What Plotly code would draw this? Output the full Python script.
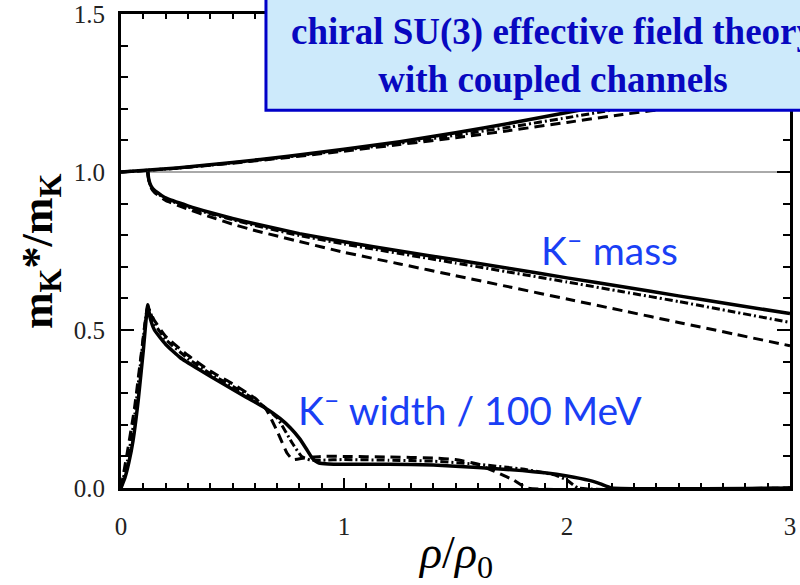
import plotly.graph_objects as go

# ---- data ----
# upper branch (mass rising above 1)
up_x = [0.0, 0.25, 0.5, 0.75, 1.0, 1.25, 1.5, 1.75, 2.0, 2.25, 2.5, 2.75, 3.0]
up_solid = [1.0, 1.013, 1.03, 1.05, 1.072, 1.096, 1.124, 1.155, 1.188, 1.222, 1.258, 1.295, 1.333]
up_dashdot = [1.0, 1.012, 1.029, 1.048, 1.069, 1.091, 1.116, 1.143, 1.172, 1.202, 1.233, 1.265, 1.298]
up_dashed = [1.0, 1.012, 1.028, 1.046, 1.066, 1.087, 1.108, 1.132, 1.157, 1.182, 1.205, 1.23, 1.255]

# K- mass branch
ms_x = [0.12, 0.125, 0.135, 0.15, 0.2, 0.3, 0.4, 0.5, 0.6, 0.8, 1.0, 1.25, 1.5, 1.75, 2.0, 2.25, 2.5, 2.75, 3.0]
ms_solid = [1.0, 0.975, 0.955, 0.942, 0.918, 0.893, 0.872, 0.853, 0.836, 0.805, 0.779, 0.75, 0.722, 0.694, 0.665, 0.637, 0.608, 0.58, 0.552]
ms_dashdot = [1.0, 0.973, 0.952, 0.939, 0.915, 0.889, 0.868, 0.849, 0.831, 0.799, 0.772, 0.742, 0.712, 0.682, 0.652, 0.621, 0.59, 0.557, 0.524]
ms_dashed = [1.0, 0.972, 0.95, 0.935, 0.91, 0.882, 0.858, 0.835, 0.815, 0.78, 0.746, 0.709, 0.672, 0.635, 0.598, 0.561, 0.524, 0.487, 0.45]

# K- width / 100 MeV
ws_x = [0.0, 0.018, 0.035, 0.054, 0.077, 0.1, 0.12, 0.13, 0.15, 0.2, 0.265, 0.35, 0.45, 0.565, 0.64, 0.713, 0.76, 0.8, 0.83, 0.855, 0.872, 0.888, 0.93,
        1.0, 1.2, 1.4, 1.6, 1.8, 1.9, 2.0, 2.1, 2.15, 2.2, 3.0]
ws_solid = [0.0, 0.033, 0.08, 0.15, 0.276, 0.435, 0.58, 0.54, 0.5, 0.455, 0.413, 0.375, 0.333, 0.286, 0.256, 0.22, 0.19, 0.157, 0.125, 0.097, 0.085, 0.079, 0.076,
            0.075, 0.075, 0.073, 0.065, 0.055, 0.048, 0.038, 0.024, 0.013, 0.0, 0.0]

wd_x = [0.0, 0.03, 0.06, 0.09, 0.12, 0.15, 0.2, 0.3, 0.4, 0.5, 0.6, 0.65, 0.7, 0.745, 0.77, 0.82, 0.9,
        1.0, 1.2, 1.4, 1.5, 1.6, 1.65, 1.7, 1.76, 1.82, 3.0]
wd_dashed = [0.0, 0.12, 0.25, 0.42, 0.57, 0.53, 0.48, 0.42, 0.37, 0.33, 0.285, 0.25, 0.18, 0.11, 0.09, 0.095, 0.1,
             0.1, 0.098, 0.095, 0.09, 0.075, 0.06, 0.045, 0.025, 0.0, 0.0]

wdd_x = [0.0, 0.03, 0.06, 0.09, 0.12, 0.15, 0.2, 0.3, 0.4, 0.5, 0.6, 0.7, 0.77, 0.81, 0.85, 0.9,
         1.0, 1.2, 1.4, 1.6, 1.8, 1.9, 1.95, 2.0, 2.05, 3.0]
wd_dashdot = [0.0, 0.09, 0.22, 0.41, 0.575, 0.52, 0.47, 0.41, 0.362, 0.322, 0.28, 0.222, 0.14, 0.1, 0.088, 0.088,
              0.09, 0.088, 0.085, 0.075, 0.06, 0.048, 0.04, 0.025, 0.0, 0.0]

x_ticks = [0, 1, 2, 3]
x_ticklabels = ["0", "1", "2", "3"]
y_ticks = [0.0, 0.5, 1.0, 1.5]
y_ticklabels = ["0.0", "0.5", "1.0", "1.5"]

SOLID = dict(color="black", width=3.5)
DASHED = dict(color="black", width=3, dash="10px,6px")
DASHDOT = dict(color="black", width=3, dash="8px,3px,2px,3px")

fig = go.Figure()

def add(x, y, line):
    fig.add_trace(go.Scatter(x=x, y=y, mode="lines", line=dict(line, shape="spline", smoothing=0.4),
                             showlegend=False, hoverinfo="skip"))

add(up_x, up_dashed, DASHED)
add(up_x, up_dashdot, DASHDOT)
add(up_x, up_solid, SOLID)
add(ms_x, ms_dashed, DASHED)
add(ms_x, ms_dashdot, DASHDOT)
add(ms_x, ms_solid, SOLID)
add(wd_x, wd_dashed, DASHED)
add(wdd_x, wd_dashdot, DASHDOT)
add(ws_x, ws_solid, SOLID)

# thin reference line at 1.0
fig.add_shape(type="line", xref="x", yref="y", x0=0, x1=3, y0=1.0, y1=1.0,
              line=dict(color="#555555", width=1), layer="below")

# blue box (extends beyond the figure)
fig.add_shape(type="rect", xref="paper", yref="paper", x0=0.2167, x1=1.25, y0=0.797, y1=1.15,
              line=dict(color="#0000c8", width=3), fillcolor="#cdeafb", layer="above")

fig.add_annotation(xref="paper", yref="paper", x=0.646, y=0.912, xanchor="center", yanchor="middle",
                   text="chiral SU(3) effective field theory<br>with coupled channels",
                   showarrow=False, align="center",
                   font=dict(family="Liberation Serif", size=37, color="#0808c0", weight="bold"))

fig.add_annotation(xref="x", yref="y", x=2.19, y=0.762, text="K<sup>–</sup> mass", showarrow=False,
                   font=dict(family="Lato", size=39, color="#1a3ff5"))
fig.add_annotation(xref="x", yref="y", x=1.565, y=0.254, text="K<sup>–</sup> width / 100 MeV", showarrow=False,
                   font=dict(family="Lato", size=39, color="#1a3ff5"))

# axis titles
fig.add_annotation(xref="paper", yref="paper", x=-0.121, y=0.5, textangle=-90,
                   xanchor="center", yanchor="middle",
                   text="m<sub>K</sub>*/m<sub>K</sub>", showarrow=False,
                   font=dict(family="Liberation Serif", size=44, color="black", weight="bold"))
fig.add_annotation(xref="paper", yref="paper", x=0.5, y=-0.143, xanchor="center", yanchor="middle",
                   text="<i>ρ</i>/<i>ρ</i><sub>0</sub>", showarrow=False,
                   font=dict(family="Liberation Serif", size=46, color="black"))

axis_common = dict(showline=True, linecolor="black", linewidth=3, mirror="ticks", ticks="inside",
                   tickcolor="black", tickwidth=2, showgrid=False, zeroline=False, automargin=False,
                   tickfont=dict(family="Liberation Serif", size=25, color="#222222"))

fig.update_xaxes(axis_common, range=[0, 3], tickvals=x_ticks, ticktext=x_ticklabels, ticklen=10,
                 ticklabelstandoff=14,
                 minor=dict(dtick=0.1, ticks="inside", ticklen=5, tickwidth=2, tickcolor="black", showgrid=False))
fig.update_yaxes(axis_common, range=[0, 1.5], tickvals=y_ticks, ticktext=y_ticklabels, ticklen=13,
                 ticklabelstandoff=8,
                 minor=dict(dtick=0.1, ticks="inside", ticklen=7, tickwidth=2, tickcolor="black", showgrid=False))

fig.update_layout(width=800, height=585, margin=dict(l=121, r=10, t=14, b=97, autoexpand=False),
                  plot_bgcolor="white", paper_bgcolor="white")

fig.write_html("out.html", config={"displayModeBar": False},
               post_script="document.body.style.margin='0';document.body.style.overflow='hidden';")
